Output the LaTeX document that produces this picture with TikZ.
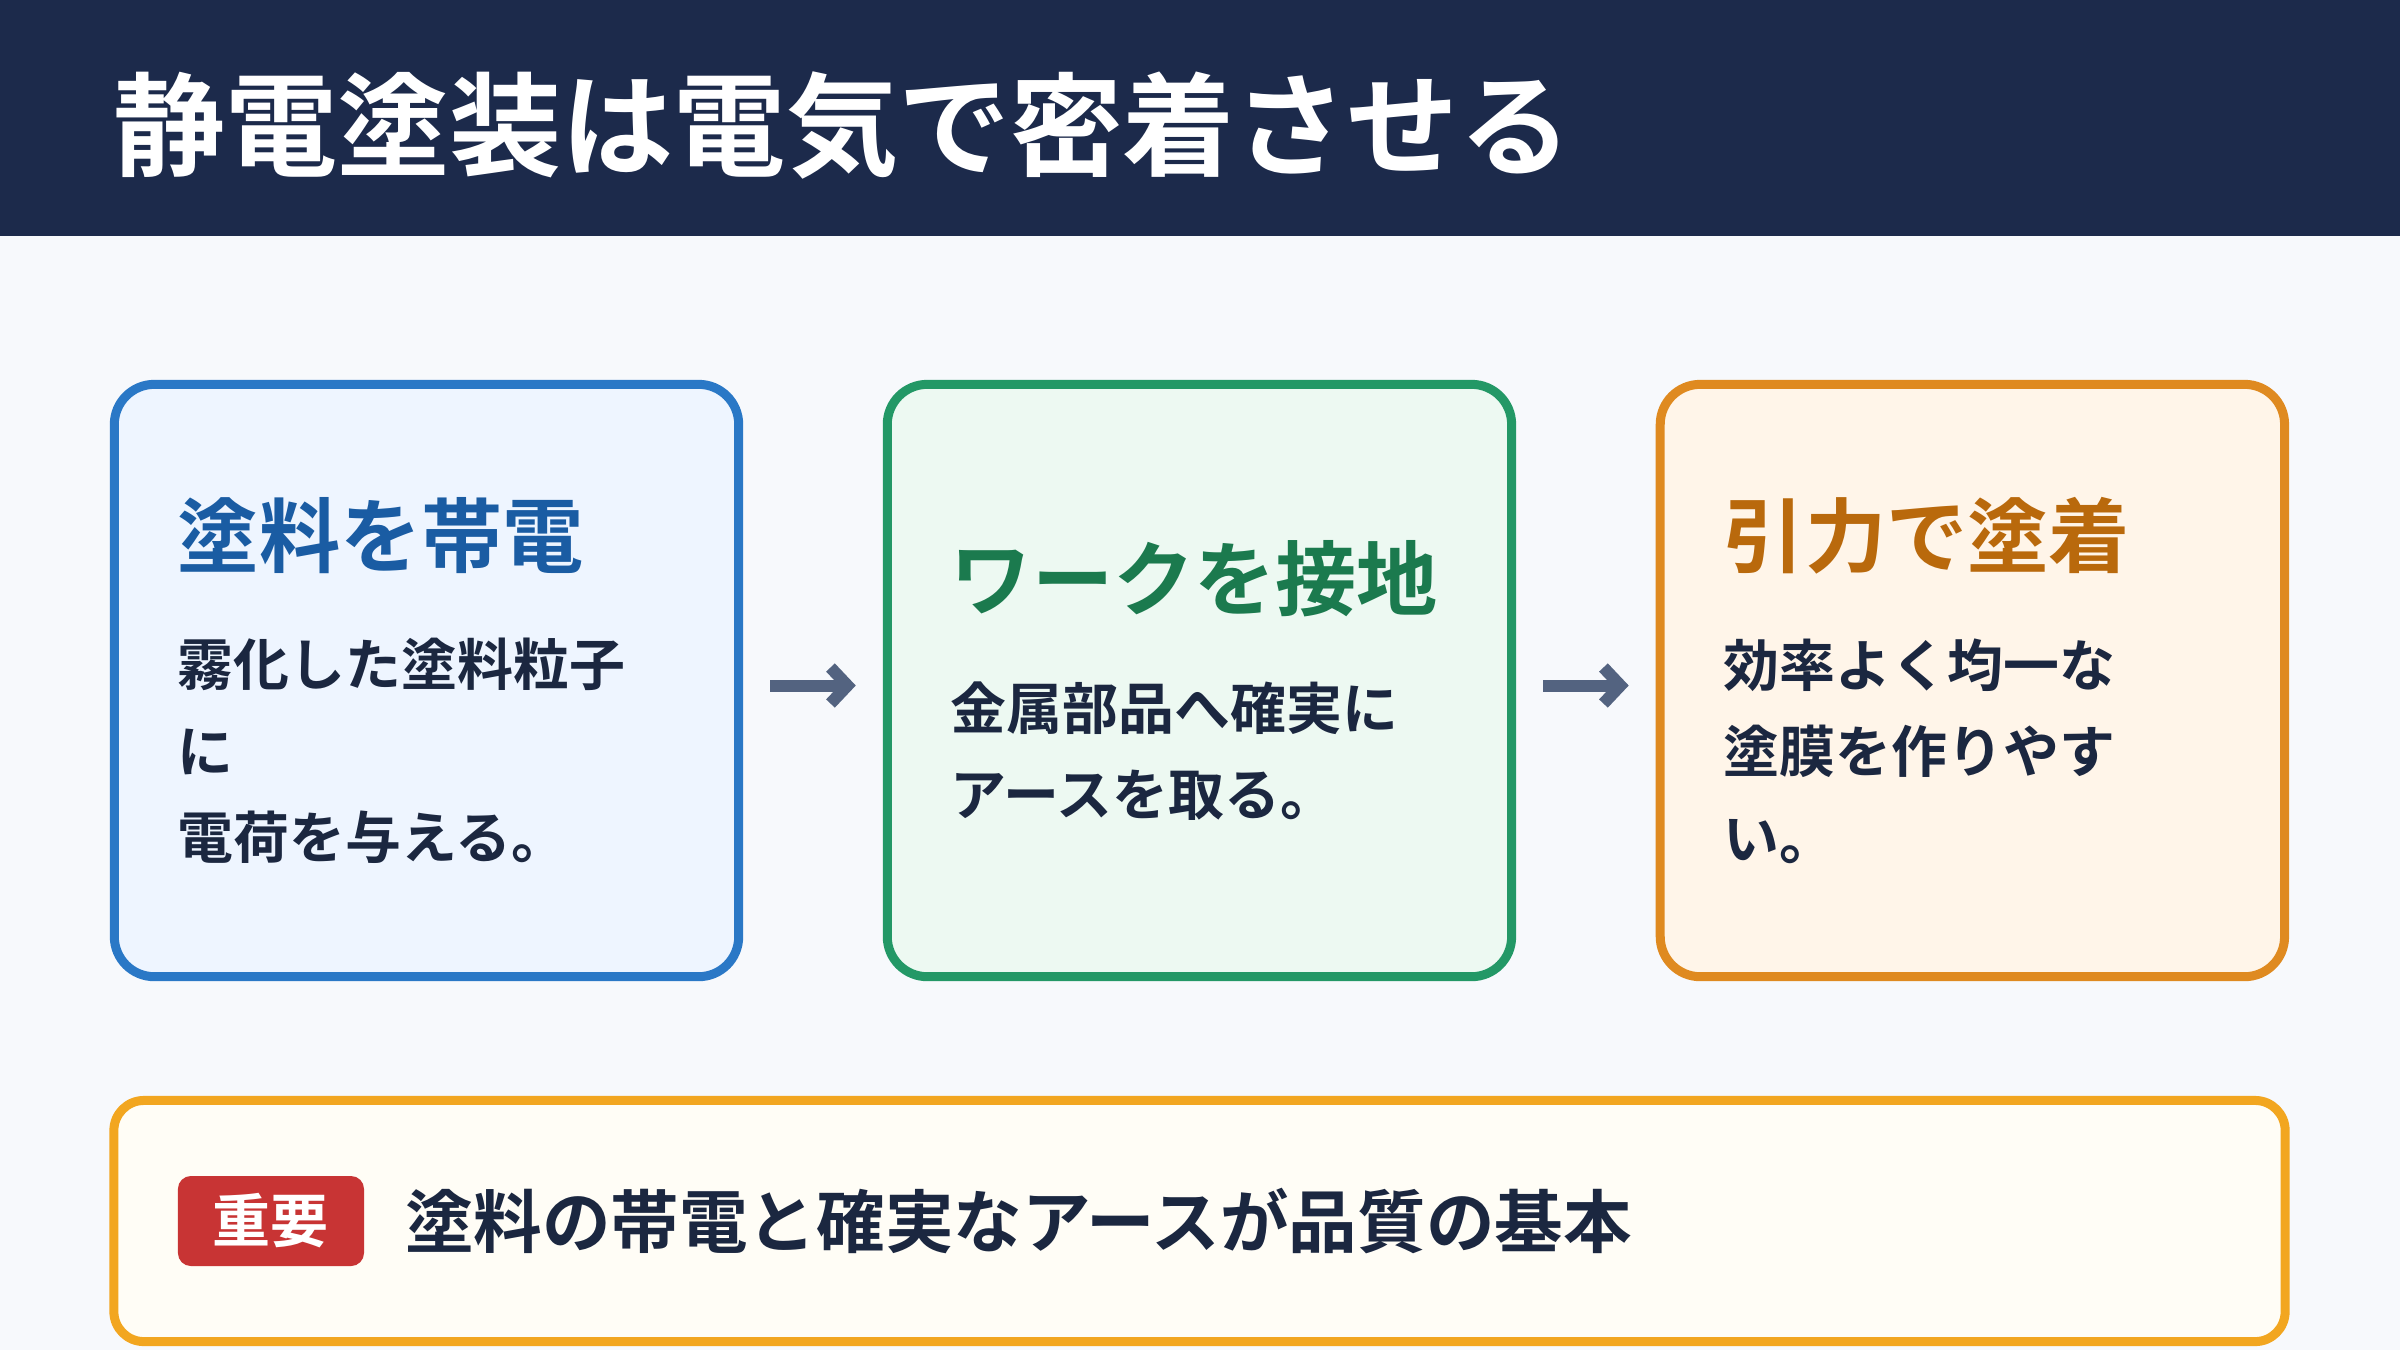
\documentclass[tikz,border=0pt]{standalone}
\usepackage{fontspec}
\setmainfont{Noto Sans CJK JP}[BoldFont={* Bold}]
\usetikzlibrary{positioning,arrows.meta}

\definecolor{navy}{HTML}{1C2A4B}
\definecolor{pagebg}{HTML}{F7F9FC}
\definecolor{ink}{HTML}{1B2740}
\definecolor{chargeline}{HTML}{2A78C6}
\definecolor{chargefill}{HTML}{EEF5FF}
\definecolor{chargehead}{HTML}{1A5CA3}
\definecolor{groundline}{HTML}{239866}
\definecolor{groundfill}{HTML}{EDF9F2}
\definecolor{groundhead}{HTML}{1B7A4E}
\definecolor{adhereline}{HTML}{DF8A20}
\definecolor{adherefill}{HTML}{FFF5E9}
\definecolor{adherehead}{HTML}{B9690C}
\definecolor{noteline}{HTML}{F2A620}
\definecolor{notefill}{HTML}{FFFDF6}
\definecolor{tagred}{HTML}{C83434}
\definecolor{arrowgray}{HTML}{536380}

\newcommand{\headfont}{\fontsize{23.1}{28}\selectfont}
\newcommand{\bodyfont}{\bfseries\fontsize{15.9}{24.6}\selectfont}

\begin{document}
\begin{tikzpicture}[
        x=0.01cm, y=-0.01cm,
        every node/.style={align=left, text=ink, inner sep=0pt, outer sep=0pt},
        card/.style={rectangle, rounded corners=0.4cm, line width=0.09cm, outer sep=0.045cm, minimum width=6.24cm, minimum height=5.92cm, text width=4.97cm, font=\bodyfont},
        notebox/.style={rectangle, rounded corners=0.3cm, line width=0.09cm, draw=noteline, fill=notefill, minimum width=21.7cm, minimum height=2.41cm},
        tagbox/.style={rectangle, rounded corners=0.13cm, fill=tagred, minimum width=1.86cm, minimum height=0.9cm, align=center, text=white, font=\bfseries\fontsize{16.5}{20}\selectfont},
        arrow/.style={line width=0.12cm, arrowgray, -{Straight Barb[length=0.17cm, width=0.36cm]}, shorten <=0.27cm, shorten >=0.27cm}
    ]
    \fill [pagebg] (0,0) rectangle (2400,1350);
    \useasboundingbox (0,0) rectangle (2400,1350);

    % Header
    \node (header) [rectangle, fill=navy, minimum width=24cm, minimum height=2.36cm, anchor=north west] at (0,0) {};
    \node (title) [anchor=west, text=white, font=\bfseries\fontsize{31.9}{36}\selectfont] at (113,125) {静電塗装は電気で密着させる};

    % Nodes
    \node (charge) [card, draw=chargeline, fill=chargefill] at (426.5,680.5) {{\headfont\color{chargehead}塗料を帯電}\\[9.5pt]
    霧化した塗料粒子\\に\\電荷を与える。};

    \node (ground) [card, draw=groundline, fill=groundfill, right=1.395cm of charge] {{\headfont\color{groundhead}ワークを接地}\\[9.5pt]
    金属部品へ確実に\\アースを取る。};

    \node (adhere) [card, draw=adhereline, fill=adherefill, right=1.395cm of ground] {{\headfont\color{adherehead}引力で塗着}\\[9.5pt]
    効率よく均一な\\塗膜を作りやす\\い。};

    % Arrows
    \draw [arrow] ([yshift=-0.05cm]charge.east) -- ([yshift=-0.05cm]ground.west);
    \draw [arrow] ([yshift=-0.05cm]ground.east) -- ([yshift=-0.05cm]adhere.west);

    % Note
    \node (note) [notebox] at (1199.5,1221) {};
    \node (tag) [tagbox, right=0.64cm of note.west] {重要};
    \node (key) [right=0.41cm of tag, font=\bfseries\fontsize{19.5}{24}\selectfont] {塗料の帯電と確実なアースが品質の基本};

\end{tikzpicture}
\end{document}
